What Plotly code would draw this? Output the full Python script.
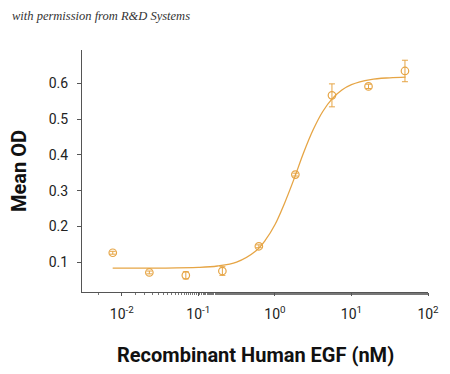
import plotly.graph_objects as go

# Data
conc_nM = [0.00762, 0.0229, 0.0686, 0.206, 0.617, 1.85, 5.56, 16.7, 50.0]
mean_od = [0.127, 0.072, 0.064, 0.076, 0.145, 0.345, 0.566, 0.591, 0.634]
od_err = [0.004, 0.004, 0.010, 0.012, 0.004, 0.004, 0.032, 0.006, 0.030]

# Fitted curve, points
curve_x = [0.0076, 0.0316, 0.1, 0.178, 0.316, 0.562, 0.75, 1.0, 1.33, 1.78,
           2.37, 3.16, 4.22, 5.62, 7.5, 10.0, 17.8, 31.6, 51.0]
curve_y = [0.084, 0.0842, 0.086, 0.090, 0.101, 0.132, 0.162, 0.205, 0.264, 0.333,
           0.406, 0.470, 0.521, 0.557, 0.581, 0.596, 0.610, 0.615, 0.617]

x_tickvals = [0.01, 0.1, 1, 10, 100]
x_ticktext = ["10<sup>-2</sup>", "10<sup>-1</sup>", "10<sup>0</sup>", "10<sup>1</sup>", "10<sup>2</sup>"]
y_tickvals = [0.1, 0.2, 0.3, 0.4, 0.5, 0.6]
y_ticktext = ["0.1", "0.2", "0.3", "0.4", "0.5", "0.6"]

COLOR = "#E6A545"
SANS = "Roboto, Lato, sans-serif"

fig = go.Figure()
fig.add_trace(go.Scatter(
    x=curve_x, y=curve_y, mode="lines", line=dict(color=COLOR, width=1.3, shape="spline"),
    hoverinfo="skip", showlegend=False))
fig.add_trace(go.Scatter(
    x=conc_nM, y=mean_od, mode="markers",
    marker=dict(symbol="circle-open", size=7.5, color=COLOR, line=dict(width=1.2, color=COLOR)),
    error_y=dict(type="data", array=od_err, color=COLOR, thickness=1, width=3),
    showlegend=False))

# page body has an 8px margin, so the figure is drawn 8px smaller and offset
fig.update_layout(
    width=442, height=366,
    margin=dict(l=74, r=22, t=42, b=82),
    paper_bgcolor="white", plot_bgcolor="white",
    font=dict(family=SANS, color="#222"),
    annotations=[
        dict(text="<i>with permission from R&amp;D Systems</i>", xref="paper", yref="paper",
             x=-0.208, y=1.14, xanchor="left", yanchor="middle", showarrow=False,
             font=dict(family="Liberation Serif, DejaVu Serif, serif", size=12.5, color="#333")),
        dict(text="<b>Recombinant Human EGF (nM)</b>", xref="paper", yref="paper",
             x=0.5, y=-0.26, xanchor="center", yanchor="middle", showarrow=False,
             font=dict(family=SANS, size=20, color="#111")),
        dict(text="<b>Mean OD</b>", xref="paper", yref="paper", textangle=-90,
             x=-0.182, y=0.5, xanchor="center", yanchor="middle", showarrow=False,
             font=dict(family=SANS, size=20, color="#111")),
    ],
)
fig.update_xaxes(
    type="log", range=[-2.52, 2.0], automargin=False,
    tickvals=x_tickvals, ticktext=x_ticktext,
    showline=True, linecolor="#555", linewidth=1,
    ticks="outside", ticklen=3, tickcolor="#555",
    minor=dict(ticks="outside", ticklen=2, tickcolor="#777", showgrid=False),
    showgrid=False, zeroline=False,
    tickfont=dict(size=14, family=SANS, color="#222"),
    ticklabelstandoff=6,
)
fig.update_yaxes(
    range=[0.0175, 0.6925], automargin=False,
    tickvals=y_tickvals, ticktext=y_ticktext,
    showline=True, linecolor="#555", linewidth=1,
    ticks="outside", ticklen=4, tickcolor="#555",
    showgrid=False, zeroline=False,
    tickfont=dict(size=14, family=SANS, color="#222"),
    ticklabelstandoff=6,
)

fig.write_html("out.html")
